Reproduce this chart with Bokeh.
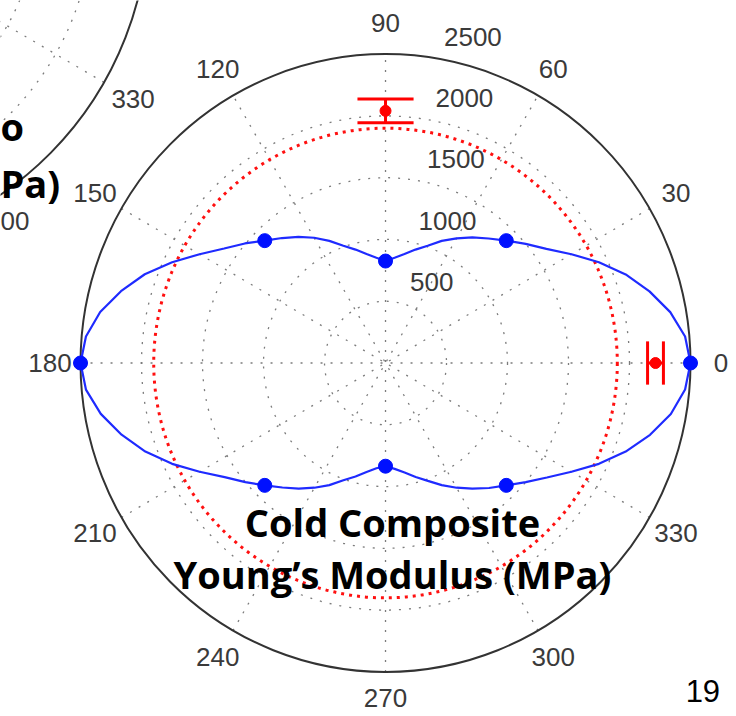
import numpy as np
from bokeh.plotting import figure
from bokeh.models import Range1d, ColumnDataSource
from bokeh.core.properties import value
from bokeh.embed import file_html
from bokeh.resources import INLINE

# ---------------- data ----------------
curve_angles = list(range(0, 361, 5))
curve_values = [
    2500, 2465, 2370, 2240, 2095, 1930, 1760, 1610, 1500, 1400, 1315, 1240, 1165, 1090, 1010, 950, 895, 855, 825,
    855, 895, 950, 1010, 1090, 1170, 1245, 1320, 1400, 1505, 1615, 1760, 1930, 2100, 2245, 2375, 2465, 2500,
    2465, 2370, 2240, 2095, 1930, 1760, 1610, 1500, 1400, 1315, 1240, 1165, 1090, 1010, 950, 895, 855, 835,
    860, 900, 955, 1015, 1090, 1165, 1240, 1320, 1400, 1500, 1615, 1760, 1930, 2095, 2245, 2375, 2465, 2500,
]
marker_angles = [0, 45, 90, 135, 180, 225, 270, 315]
marker_values = [2500, 1400, 825, 1400, 2500, 1400, 835, 1400]

exp_angles = [0, 90]
exp_means = [2213, 2040]
exp_errors = [65, 97]
exp_cap_half = [175, 230]

measured_ring = 1900

r_max = 2500
ring_values = [500, 1000, 1500, 2000]
radial_labels = ["500", "1000", "1500", "2000", "2500"]
radial_label_values = [500, 1000, 1500, 2000, 2500]
angle_ticks = [0, 30, 60, 90, 120, 150, 180, 210, 240, 270, 300, 330]
angle_labels = ["0", "30", "60", "90", "120", "150", "180", "210", "240", "270", "300", "330"]

title_lines = ["Cold Composite", "Young\u2019s Modulus (MPa)"]
page_number = "19"

# neighbouring (cut-off) polar plot in the top-left corner
nb_center = (-4689, 3645)
nb_rmax = 2750
nb_ring_fracs = [1/6, 2/6, 3/6, 4/6, 5/6]
nb_label_angles = [330]
nb_labels = ["330"]
nb_fragments = ["o", "Pa)"]          # visible ends of its bold title
nb_fragment_x = [-3156, -3156]
nb_fragment_y = [1921, 1457]
nb_tick_fragment = "00"               # visible end of its "300" label

# ---------------- figure ----------------
p = figure(width=736, height=716, x_range=Range1d(-3156, 2877), y_range=Range1d(-2860, 2933),
           x_axis_location=None, y_axis_location=None, toolbar_location=None,
           output_backend="svg", min_border=0)
p.grid.visible = False
p.outline_line_color = None
p.background_fill_color = "white"

GRID = "#7c7c7c"
LABEL = "#3a3a3a"
LFONT = value("Liberation Sans")
BFONT = value("Open Sans")

# ---- neighbouring plot (mostly outside the view) ----
ncx, ncy = nb_center
for f in nb_ring_fracs:
    p.ellipse(x=ncx, y=ncy, width=2*nb_rmax*f, height=2*nb_rmax*f, fill_color=None,
              line_color=GRID, line_width=1.3, line_dash="2 8")
nb_sp = np.radians(np.arange(0, 180, 30))
p.segment(x0=ncx - nb_rmax*np.cos(nb_sp), y0=ncy - nb_rmax*np.sin(nb_sp),
          x1=ncx + nb_rmax*np.cos(nb_sp), y1=ncy + nb_rmax*np.sin(nb_sp),
          line_color=GRID, line_width=1.3, line_dash="2 8")
p.ellipse(x=ncx, y=ncy, width=2*nb_rmax, height=2*nb_rmax, fill_color=None,
          line_color="#333333", line_width=2)
nth = np.radians(nb_label_angles)
p.text(x=ncx + 1.1*nb_rmax*np.cos(nth), y=ncy + 1.1*nb_rmax*np.sin(nth), text=nb_labels,
       text_align="center", text_baseline="middle", text_font=LFONT, text_font_size="26px",
       text_color=LABEL)
p.text(x=[-3156], y=[1148], text=[nb_tick_fragment], text_align="left", text_baseline="middle",
       text_font=LFONT, text_font_size="26px", text_color=LABEL)
p.text(x=nb_fragment_x, y=nb_fragment_y, text=nb_fragments, text_align="left", text_baseline="alphabetic",
       text_font=BFONT, text_font_style="bold", text_font_size="38px", text_color="black")

# ---- main polar grid ----
for rv in ring_values:
    p.ellipse(x=0, y=0, width=2*rv, height=2*rv, fill_color=None,
              line_color=GRID, line_width=1.3, line_dash="2 8")
sp = np.radians(np.arange(0, 180, 30))
p.segment(x0=-r_max*np.cos(sp), y0=-r_max*np.sin(sp), x1=r_max*np.cos(sp), y1=r_max*np.sin(sp),
          line_color=GRID, line_width=1.3, line_dash="2 8")
p.ellipse(x=0, y=0, width=2*r_max, height=2*r_max, fill_color=None,
          line_color="#333333", line_width=2)

# measured value ring (red dotted)
p.ellipse(x=0, y=0, width=2*measured_ring, height=2*measured_ring, fill_color=None,
          line_color="#ff1010", line_width=3, line_dash="3 5")

# ---- blue model curve ----
ca = np.radians(curve_angles)
cv = np.array(curve_values)
p.line(x=cv*np.cos(ca), y=cv*np.sin(ca), line_color="#1f2bff", line_width=2.2)
ma = np.radians(marker_angles)
mv = np.array(marker_values)
p.scatter(x=mv*np.cos(ma), y=mv*np.sin(ma), marker="circle", size=14,
          fill_color="#0010ff", line_color="#0010ff")

# ---- red experimental error bars ----
ea = np.radians(exp_angles)
em = np.array(exp_means)
ee = np.array(exp_errors)
eh = np.array(exp_cap_half)
ux, uy = np.cos(ea), np.sin(ea)
nx, ny = -np.sin(ea), np.cos(ea)
lo, hi = em - ee, em + ee
p.segment(x0=lo*ux, y0=lo*uy, x1=hi*ux, y1=hi*uy, line_color="#ff0000", line_width=3)
for r_end in (lo, hi):
    p.segment(x0=r_end*ux - eh*nx, y0=r_end*uy - eh*ny, x1=r_end*ux + eh*nx, y1=r_end*uy + eh*ny,
              line_color="#ff0000", line_width=3)
p.scatter(x=em*ux, y=em*uy, marker="circle", size=11, fill_color="#ff0000", line_color="#ff0000")

# ---- labels ----
th = np.radians(angle_ticks)
lab_src = ColumnDataSource(dict(
    x=1.1*r_max*np.cos(th), y=1.1*r_max*np.sin(th), text=angle_labels,
    dy=[-5 if a == 270 else 0 for a in angle_ticks],   # keep the bottom label inside the canvas
))
p.text(x="x", y="y", text="text", y_offset="dy", source=lab_src,
       text_align="center", text_baseline="middle", text_font=LFONT, text_font_size="26px",
       text_color=LABEL)
rl = np.array(radial_label_values)
a82 = np.radians(82)
p.text(x=rl*np.cos(a82), y=rl*np.sin(a82), text=radial_labels, x_offset=16, y_offset=-20,
       text_align="left", text_baseline="alphabetic", text_font=LFONT, text_font_size="26px",
       text_color=LABEL)

# title
p.text(x=[57, 57], y=[-1287, -1707], text=title_lines, text_align="center", text_baseline="alphabetic",
       text_font=BFONT, text_font_style="bold", text_font_size="38px", text_color="black")

# page number
p.text(x=[2460], y=[-2650], text=[page_number], text_align="left", text_baseline="middle",
       text_font=LFONT, text_font_size="31px", text_color="black")

open("out.html", "w").write(file_html(p, INLINE))
